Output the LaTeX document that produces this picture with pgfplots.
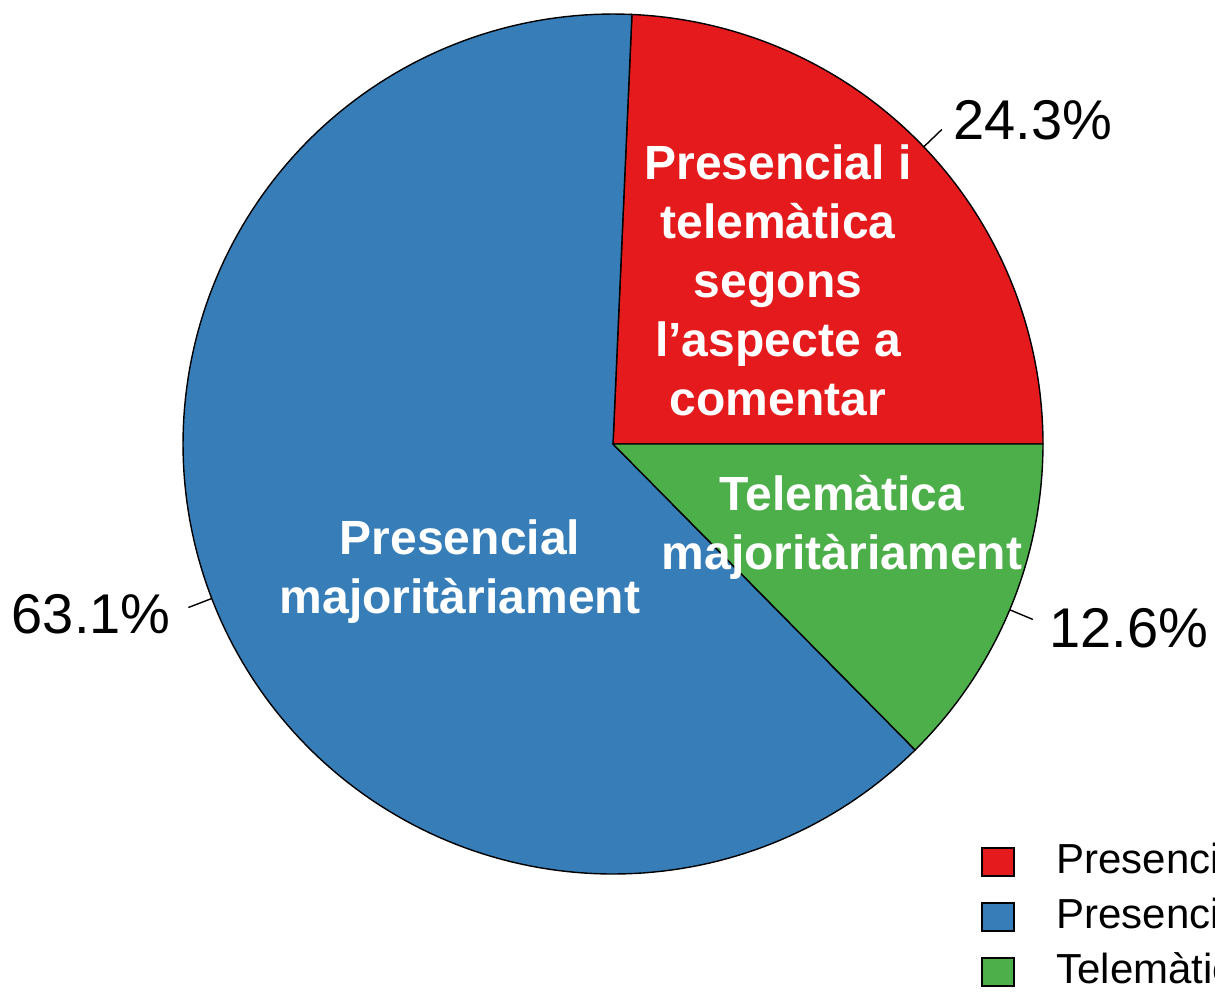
\documentclass[border=0pt]{standalone}
\usepackage{pgfplots}
\pgfplotsset{compat=1.18}
\usepackage{fontspec}
\setmainfont{Liberation Sans}
\definecolor{cRed}{HTML}{E41A1C}
\definecolor{cBlue}{HTML}{377EB8}
\definecolor{cGreen}{HTML}{4DAF4A}
% shares (percent)
\def\vA{24.3}\def\vB{63.1}\def\vC{12.6}
\def\cx{613}\def\cy{444}\def\R{430}
\begin{document}
\begin{tikzpicture}
\clip (0,0) rectangle (607.5pt,496.5pt);
\begin{axis}[at={(0,0)}, anchor=south west, scale only axis,
  width=607.5pt, height=496.5pt, xmin=0, xmax=1215, ymin=0, ymax=993,
  y dir=reverse, hide axis, clip=false]
\pgfmathsetmacro{\aA}{\vA*3.6}
\pgfmathsetmacro{\aB}{(\vA+\vB)*3.6}
\addplot[fill=cRed, draw=black, line width=0.7pt, samples=90, domain=0:\aA, variable=\t]
  ({\cx+\R*cos(\t)},{\cy-\R*sin(\t)}) -- (axis cs:\cx,\cy) -- cycle;
\addplot[fill=cBlue, draw=black, line width=0.7pt, samples=180, domain=\aA:\aB, variable=\t]
  ({\cx+\R*cos(\t)},{\cy-\R*sin(\t)}) -- (axis cs:\cx,\cy) -- cycle;
\addplot[fill=cGreen, draw=black, line width=0.7pt, samples=60, domain=\aB:360, variable=\t]
  ({\cx+\R*cos(\t)},{\cy-\R*sin(\t)}) -- (axis cs:\cx,\cy) -- cycle;
% leader lines
\addplot[black, line width=0.7pt] coordinates {(923.8,146.8) (941.8,129.5)};
\addplot[black, line width=0.7pt] coordinates {(211.7,598.5) (188.4,607.5)};
\addplot[black, line width=0.7pt] coordinates {(1009.8,609.8) (1032.8,619.4)};
% outer labels
\node[anchor=west, font=\fontsize{28}{32}\selectfont, inner sep=0pt] at (axis cs:953,120) {24.3\%};
\node[anchor=east, font=\fontsize{28}{32}\selectfont, inner sep=0pt] at (axis cs:171,614) {63.1\%};
\node[anchor=west, font=\fontsize{28}{32}\selectfont, inner sep=0pt] at (axis cs:1049,628) {12.6\%};
% inner labels
\node[white, align=center, font=\fontsize{24}{29.5}\selectfont\bfseries, inner sep=0pt] at (axis cs:778,280)
  {Presencial i\\telemàtica\\segons\\l’aspecte a\\comentar};
\node[white, align=center, font=\fontsize{24}{29.5}\selectfont\bfseries, inner sep=0pt] at (axis cs:460,572)
  {Presencial\\majoritàriament};
\node[white, align=center, font=\fontsize{24}{29.5}\selectfont\bfseries, inner sep=0pt] at (axis cs:842,527)
  {Telemàtica\\majoritàriament};
% legend
\addplot[fill=cRed, draw=black, line width=0.8pt] coordinates {(982,848) (1014,848) (1014,876) (982,876)} -- cycle;
\addplot[fill=cBlue, draw=black, line width=0.8pt] coordinates {(982,903) (1014,903) (1014,931) (982,931)} -- cycle;
\addplot[fill=cGreen, draw=black, line width=0.8pt] coordinates {(982,958) (1014,958) (1014,986) (982,986)} -- cycle;
\node[anchor=west, font=\fontsize{21}{25}\selectfont, inner sep=0pt] at (axis cs:1056,862) {Presencial i telemàtica segons l’aspecte a comentar};
\node[anchor=west, font=\fontsize{21}{25}\selectfont, inner sep=0pt] at (axis cs:1056,917) {Presencial majoritàriament};
\node[anchor=west, font=\fontsize{21}{25}\selectfont, inner sep=0pt] at (axis cs:1056,972) {Telemàtica majoritàriament};
\end{axis}
\end{tikzpicture}
\end{document}
